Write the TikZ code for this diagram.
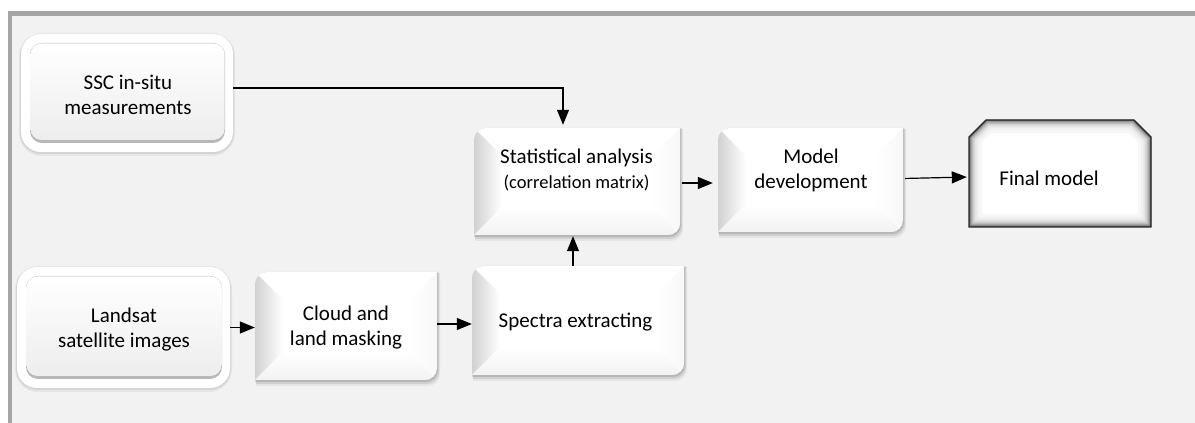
\documentclass[tikz,border=0pt]{standalone}
\usepackage{fontspec}
\setmainfont{Carlito}
\usetikzlibrary{arrows.meta}
\definecolor{bg}{HTML}{F2F2F2}
\definecolor{framec}{HTML}{A6A6A6}
\tikzset{
  arr/.style={line width=1.2pt, -{Triangle[length=15pt,width=12pt]}},
  boxn/.style={draw=none, inner sep=0pt},
  txt/.style={align=center, font=\fontsize{21}{25}\selectfont, inner sep=0pt},
}
% bevel path: x1, ytop, x2, ybot, radius
\newcommand\bevpath[5]{(#1,#4) -- (#1,#2-#5) arc[start angle=180,end angle=90,radius=#5] -- (#3,#2) -- (#3,#4+#5) arc[start angle=0,end angle=-90,radius=#5] -- cycle}
\newcommand\bevbox[4]{%
  \fill[black,opacity=0.05] \bevpath{#1+1}{#2-1}{#3+3}{#4-6}{12};
  \fill[black,opacity=0.09] \bevpath{#1+1}{#2-1}{#3+2}{#4-4}{12};
  \fill[black,opacity=0.12] \bevpath{#1}{#2}{#3+1}{#4-2}{12};
  \begin{scope}
    \clip \bevpath{#1}{#2}{#3}{#4}{12};
    \fill[white] (#1,#4) rectangle (#3,#2);
    \shade[left color=black!18, right color=white] (#1,#2) -- (#1+28,#2-28) -- (#1+28,#4+28) -- (#1,#4) -- cycle;
    \shade[bottom color=black!5, top color=white] (#1,#4) -- (#1+28,#4+28) -- (#3-28,#4+28) -- (#3,#4) -- cycle;
    \shade[right color=black!3, left color=white] (#3,#2) -- (#3-28,#2-28) -- (#3-28,#4+28) -- (#3,#4) -- cycle;
  \end{scope}
}
% soft button: outer x1,ytop,x2,ybot ; inner inset 9
\newcommand\softbtn[4]{%
  \fill[black,opacity=0.05,rounded corners=23] (#1-2,#2+1) rectangle (#3+2,#4-4);
  \fill[black,opacity=0.07,rounded corners=21] (#1-1,#2) rectangle (#3+1,#4-2);
  \fill[white,rounded corners=20] (#1,#2) rectangle (#3,#4);
  \fill[black!28,rounded corners=12] (#1+9,#2-9) rectangle (#3-8,#4+9);
  \shade[rounded corners=11, top color=white, bottom color=black!7] (#1+9.5,#2-9.5) rectangle (#3-8.5,#4+12);
}
\begin{document}
\begin{tikzpicture}[x=1pt,y=1pt]
\useasboundingbox (0,0) rectangle (1195,423);
\fill[white] (0,0) rectangle (1195,423);
\fill[bg] (12,0) rectangle (1195,407);
\fill[framec] (8,407) rectangle (1195,412);
\fill[framec] (8,0) rectangle (12,412);

% buttons
\softbtn{21}{389}{233}{271}
\softbtn{17}{156}{230}{35}
\node[boxn, minimum width=212pt, minimum height=118pt] (ssc) at (127,330) {};
\node[boxn, minimum width=213pt, minimum height=121pt] (land) at (123.5,95.5) {};
\node[txt] (ssct) at (128,328) {SSC in-situ\\measurements};
\node[txt] (landt) at (124,93.5) {Landsat\\satellite images};

% bevel boxes
\bevbox{255}{151}{437}{43}
\bevbox{472}{157}{684}{48}
\bevbox{474}{295}{680}{188}
\bevbox{718}{295}{903}{191}
\node[boxn, minimum width=182pt, minimum height=108pt] (cloud) at (346,97) {};
\node[boxn, minimum width=212pt, minimum height=109pt] (spec) at (578,102.5) {};
\node[boxn, minimum width=206pt, minimum height=107pt] (stat) at (577,241.5) {};
\node[boxn, minimum width=185pt, minimum height=104pt] (model) at (810.5,243) {};
\node[txt] (cloudt) at (346,95) {Cloud and\\land masking};
\node[txt] (spect) at (575.5,101) {Spectra extracting};
\node[txt] (statt) at (576.5,253) {Statistical analysis\\{\fontsize{18.5}{22}\selectfont (correlation matrix)}};
\node[txt] (modelt) at (811,253) {Model\\development};

% final model
\begin{scope}
  \clip (969,196) -- (969,286) -- (986,303) -- (1134,303) -- (1151,286) -- (1151,196) -- cycle;
  \fill[white] (969,196) rectangle (1151,303);
  \foreach \w/\c in {26/3,20/6,15/11,11/18,8/27,5/40,2.5/58}{
    \draw[line width=\w pt, black!\c] (969,196) -- (969,286) -- (986,303) -- (1134,303) -- (1151,286) -- (1151,196) -- cycle;
  }
\end{scope}
\draw[line width=1.2pt, black!85] (969,196) -- (969,286) -- (986,303) -- (1134,303) -- (1151,286) -- (1151,196) -- cycle;
\node[boxn, minimum width=182pt, minimum height=107pt] (final) at (1060,249.5) {};
\node[txt] (finalt) at (1049,245) {Final model};

% connectors
\draw[arr, shorten >=3pt] ([yshift=5pt]ssc.east) -| ([xshift=-14pt]stat.north);
\draw[arr, shorten <=2pt, shorten >=5pt] ([yshift=-1.5pt]stat.east) -- ([yshift=-1.5pt]stat.east -| model.west);
\draw[arr, shorten <=2pt, shorten >=2pt] ([yshift=1.5pt]model.east) -- ([yshift=-3.5pt]final.west);
\draw[arr, shorten >=1pt] ([xshift=-5pt]spec.north) -- ([xshift=-5pt]spec.north |- stat.south);
\draw[arr] ([yshift=2pt]cloud.east) -- ([yshift=2pt]cloud.east -| spec.west);
\draw[arr] (land.east) -- (land.east -| cloud.west);
\end{tikzpicture}
\end{document}
